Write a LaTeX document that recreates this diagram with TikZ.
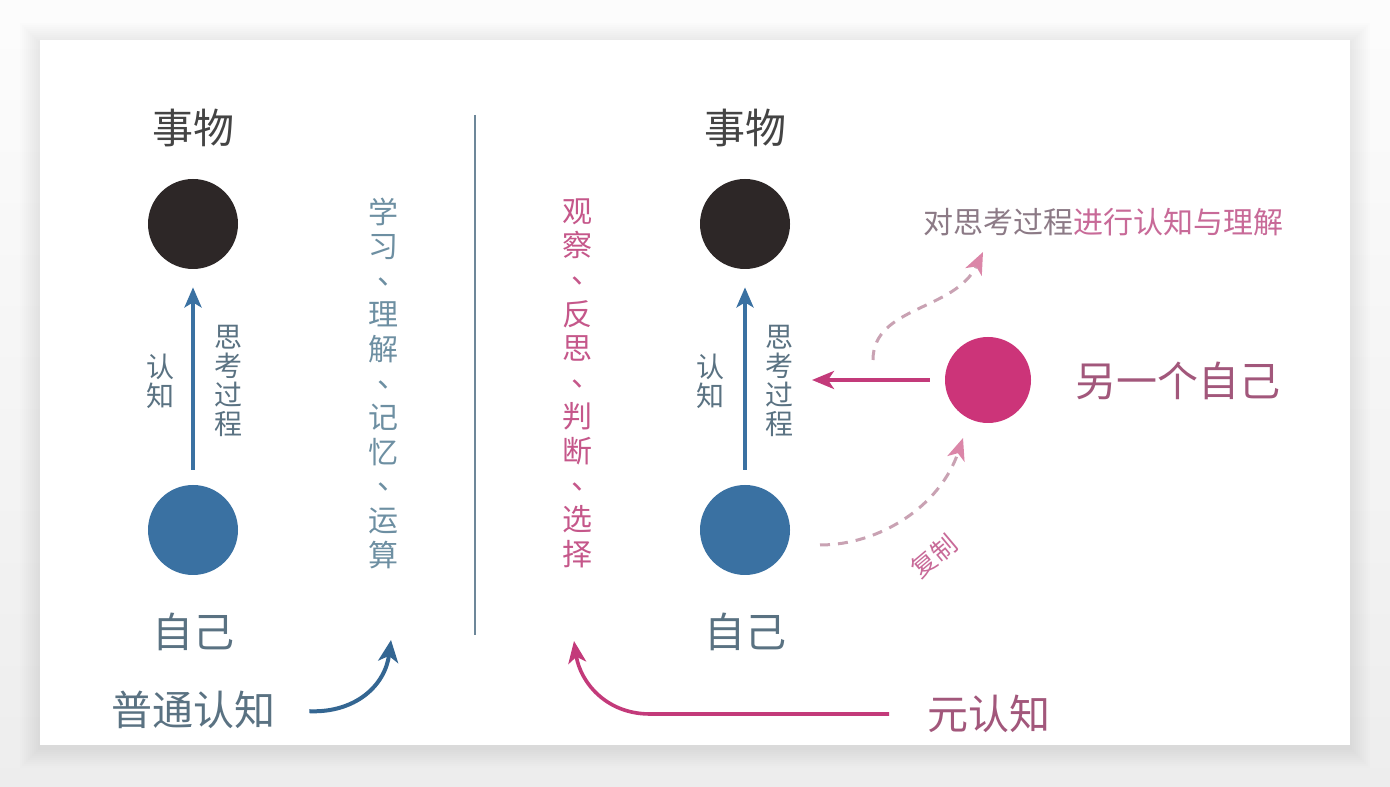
\documentclass[tikz,border=0pt]{standalone}
\usepackage{fontspec}
\setmainfont{Noto Sans CJK SC}
\usepackage{xcolor}
\usepackage{tikz}
\usetikzlibrary{arrows.meta}
\definecolor{dotblue}{HTML}{3A71A2}
\definecolor{dotblack}{HTML}{2D2727}
\definecolor{dotpink}{HTML}{CC3479}
\definecolor{txtgray}{HTML}{444444}
\definecolor{txtblue}{HTML}{5A7282}
\definecolor{listblue}{HTML}{6D8FA2}
\definecolor{linepink}{HTML}{C33A7A}
\definecolor{txtpink}{HTML}{C5578A}
\definecolor{mauve}{HTML}{A2577B}
\definecolor{notegray}{HTML}{8C7A86}
\definecolor{notepink}{HTML}{C86A98}
\definecolor{dashpink}{HTML}{C9A2B3}
\definecolor{tippink}{HTML}{DB86A8}
\definecolor{divider}{HTML}{6D8799}
\newcommand{\dun}{\hspace{0.6em}\raisebox{0.25em}{、}}

\begin{document}
\begin{tikzpicture}[x=0.5pt,y=0.5pt,
  dot/.style={circle,minimum size=45pt,inner sep=0pt},
  big/.style={font=\fontsize{20.5}{24}\selectfont,inner sep=1pt},
  vlist/.style={align=center,font=\fontsize{15}{17.15}\selectfont,inner sep=0pt},
  vsmall/.style={align=center,font=\fontsize{14}{14.5}\selectfont,text=txtblue,inner sep=0pt},
  cogarrow/.style={dotblue,line width=2pt,-{Stealth[length=10pt,width=8.5pt,inset=2.5pt]}},
  bluecurve/.style={dotblue!90!black,line width=2pt,-{Stealth[length=11pt,width=10pt,inset=3pt]}},
  pinkarrow/.style={linepink,line width=1.8pt,-{Stealth[length=11pt,width=9pt,inset=3pt]}},
  dasharrow/.style={dashpink,line width=1.5pt,dash pattern=on 5pt off 4pt,-{Stealth[length=11pt,width=9pt,inset=3pt,color=tippink]}}]
  \useasboundingbox (0,0) rectangle (1390,786);
  \shade[top color=black!1,bottom color=black!7] (0,0) rectangle (1390,786);
  \foreach \s in {2,4,...,20}
    \fill[black,opacity=0.007] ({40-\s},{38-\s}) rectangle ({1350+\s},{743+\s});
  \fill[white] (40,41) rectangle (1350,746);

  \node[big,text=txtgray] (thingTxtL) at (193,658) {事物};
  \node[dot,fill=dotblack] (thingL) at (193,562) {};
  \node[dot,fill=dotblue] (selfL) at (193,256) {};
  \node[big,text=txtblue] (selfTxtL) at (193,154) {自己};
  \node[vsmall] (knowL) at (160,405) {认\\知};
  \node[vsmall] (procL) at (228,405) {思\\考\\过\\程};
  \node[vlist,text=listblue] (listL) at (383,403) {学\\习\\\dun\\理\\解\\\dun\\记\\忆\\\dun\\运\\算};
  \node[big,text=txtblue] (plain) at (193,76) {普通认知};
  \draw[cogarrow,shorten <=7.5pt,shorten >=9pt] (selfL) -- (thingL);
  \coordinate (plainTo) at (391,146);
  \draw[bluecurve,shorten <=16pt] (plain.east) .. controls (355,73) and (385,100) .. (plainTo);

  \draw[divider,line width=1pt] (475,671) -- (475,151);

  \node[big,text=txtgray] (thingTxtR) at (745,658) {事物};
  \node[dot,fill=dotblack] (thingR) at (745,562) {};
  \node[dot,fill=dotblue] (selfR) at (745,256) {};
  \node[big,text=txtblue] (selfTxtR) at (745,154) {自己};
  \node[vsmall] (knowR) at (710,405) {认\\知};
  \node[vsmall] (procR) at (779,405) {思\\考\\过\\程};
  \node[vlist,text=txtpink] (listR) at (577,403) {观\\察\\\dun\\反\\思\\\dun\\判\\断\\\dun\\选\\择};
  \node[big,text=mauve] (meta) at (989,72) {元认知};
  \draw[cogarrow,shorten <=7.5pt,shorten >=9pt] (selfR) -- (thingR);
  \coordinate (metaTo) at (574,145);
  \draw[pinkarrow,shorten <=18pt] (meta.west) -- (650,72) .. controls (605,72) and (580,105) .. (metaTo);

  \node[dot,minimum size=43pt,fill=dotpink] (other) at (988,406) {};
  \node[big,text=mauve] (otherTxt) at (1178,405) {另一个自己};
  \node[font=\fontsize{15}{18}\selectfont,inner sep=1pt] (note) at (1103,564)
    {\textcolor{notegray}{对思考过程}\textcolor{notepink}{进行认知与理解}};
  \coordinate (procHit) at (812,406);
  \draw[pinkarrow,shorten <=7.5pt] (other) -- (procHit);
  \coordinate (thinkFrom) at (873,426);
  \coordinate (thinkTo) at (983,534);
  \draw[dasharrow] (thinkFrom) .. controls (873,480) and (955,475) .. (thinkTo);
  \coordinate (copyFrom) at (820,241);
  \coordinate (copyTo) at (963,348);
  \draw[dasharrow] (copyFrom) .. controls (880,241) and (940,280) .. (copyTo);
  \node[font=\fontsize{12.5}{15}\selectfont,text=notepink,rotate=40,inner sep=0pt] (copy) at (934,230) {复制};
\end{tikzpicture}
\end{document}
